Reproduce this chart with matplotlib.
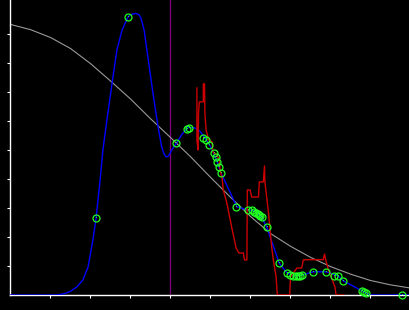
import numpy as np
import matplotlib
matplotlib.use("Agg")
import matplotlib.pyplot as plt

# gray reference curve
gray_x = [0, 0.5, 1, 1.5, 2, 2.5, 3, 3.5, 4, 4.5, 5, 5.5, 6, 6.5, 7, 7.5, 8, 8.5, 9, 9.5, 10]
gray_y = [9.33, 9.15, 8.88, 8.50, 7.98, 7.38, 6.76, 6.08, 5.43, 4.77, 4.06, 3.37, 2.71, 2.12,
          1.68, 1.30, 0.98, 0.72, 0.50, 0.35, 0.24]

# blue smooth curve
blue_x = [0, 1.11, 1.24, 1.36, 1.49, 1.66, 1.81, 1.94, 2.06, 2.14, 2.24, 2.31, 2.41, 2.54, 2.66,
          2.79, 2.94, 3.01, 3.13, 3.21, 3.26, 3.34, 3.41, 3.56, 3.69, 3.78, 3.84, 3.89, 3.95,
          4.03, 4.15, 4.29, 4.44, 4.61, 4.74, 4.84, 4.96, 5.08, 5.17, 5.26, 5.66, 5.94, 6.11,
          6.28, 6.41, 6.72, 6.92, 7.11, 7.29, 7.57, 7.89, 8.19, 8.32, 8.79, 8.99, 10]
blue_y = [0, 0, 0.02, 0.05, 0.12, 0.28, 0.52, 0.97, 1.90, 2.66, 3.97, 5.00, 6.03, 7.31, 8.45,
          9.14, 9.59, 9.67, 9.71, 9.67, 9.55, 9.14, 8.45, 6.97, 5.79, 5.10, 4.86, 4.76, 4.79,
          5.00, 5.24, 5.55, 5.78, 5.76, 5.64, 5.45, 5.21, 4.90, 4.57, 4.22, 3.04, 2.93, 2.90,
          2.68, 2.33, 1.09, 0.75, 0.66, 0.69, 0.80, 0.80, 0.66, 0.49, 0.14, 0, 0]

# red jagged curve
red_x = [4.66, 4.66, 4.69, 4.70, 4.72, 4.82, 4.82, 4.85, 4.86, 4.89, 4.96, 5.04, 5.06, 5.16,
         5.22, 5.24, 5.29, 5.32, 5.41, 5.53, 5.64, 5.71, 5.82, 5.85, 5.91, 5.92, 5.99, 6.03,
         6.20, 6.22, 6.32, 6.35, 6.36, 6.45, 6.53, 6.57, 6.64, 6.67, 6.98, 7.00, 7.07, 7.16,
         7.28, 7.32, 7.45, 7.82, 7.85, 7.88, 7.95, 8.11, 8.14, 8.34]
red_y = [7.14, 5.34, 5.00, 6.28, 6.66, 6.66, 7.28, 7.28, 6.28, 5.69, 5.34, 5.28, 4.93, 4.83,
         4.66, 4.31, 4.03, 3.62, 3.17, 2.34, 1.62, 1.45, 1.45, 1.21, 1.21, 3.62, 3.62, 3.38,
         3.38, 3.90, 3.90, 4.45, 3.90, 2.83, 1.66, 1.21, 0.62, 0, 0, 0.62, 0.76, 0.93,
         0.93, 1.21, 1.22, 1.22, 1.41, 1.21, 0.86, 0.28, 0, 0]

# green sample points
pts_x = [2.14, 2.94, 4.15, 4.41, 4.46, 4.81, 4.89, 4.96, 5.08, 5.13, 5.17, 5.21, 5.26, 5.65,
         5.94, 6.03, 6.08, 6.13, 6.18, 6.21, 6.25, 6.28, 6.41, 6.72, 6.92, 7.00, 7.06, 7.13,
         7.19, 7.25, 7.29, 7.57, 7.89, 8.09, 8.19, 8.32, 8.78, 8.84, 8.89, 9.78]
pts_y = [2.66, 9.59, 5.24, 5.74, 5.76, 5.41, 5.33, 5.17, 4.90, 4.76, 4.57, 4.41, 4.22, 3.05,
         2.93, 2.93, 2.86, 2.83, 2.79, 2.76, 2.72, 2.68, 2.33, 1.09, 0.75, 0.69, 0.66, 0.64,
         0.66, 0.67, 0.69, 0.80, 0.80, 0.67, 0.66, 0.49, 0.14, 0.10, 0.07, 0.0]

vline_x = 4.0

fig = plt.figure(figsize=(4.1, 3.1), dpi=100, facecolor='black')
ax = fig.add_axes([10.5 / 410, 15 / 310, 399.5 / 410, 295 / 310])
ax.set_facecolor('black')

ax.plot(gray_x, gray_y, color='#999999', lw=0.8, zorder=2)
ax.axvline(vline_x, color='#800080', lw=0.9, zorder=1)
ax.plot(blue_x, blue_y, color='#0000ff', lw=1.0, zorder=3)
ax.plot(red_x, red_y, color='#cc0000', lw=1.0, zorder=4)
ax.plot(pts_x, pts_y, 'o', ms=5, mfc='none', mec='#22ff22', mew=0.9, zorder=5, clip_on=False)
ax.plot(pts_x, pts_y, ',', color='#22ff22', zorder=6, clip_on=False)

ax.set_xlim(0, 399.5 / 40)
ax.set_ylim(0, 295 / 29)
ax.set_xticks(np.arange(1, 10))
ax.set_yticks(np.arange(1, 10))
ax.tick_params(colors='white', length=2.5, width=0.8, direction='out',
               labelbottom=False, labelleft=False)
for side in ['top', 'right']:
    ax.spines[side].set_visible(False)
for side in ['left', 'bottom']:
    ax.spines[side].set_color('white')
    ax.spines[side].set_linewidth(1.0)

fig.savefig('out.png', dpi=100, facecolor='black')
